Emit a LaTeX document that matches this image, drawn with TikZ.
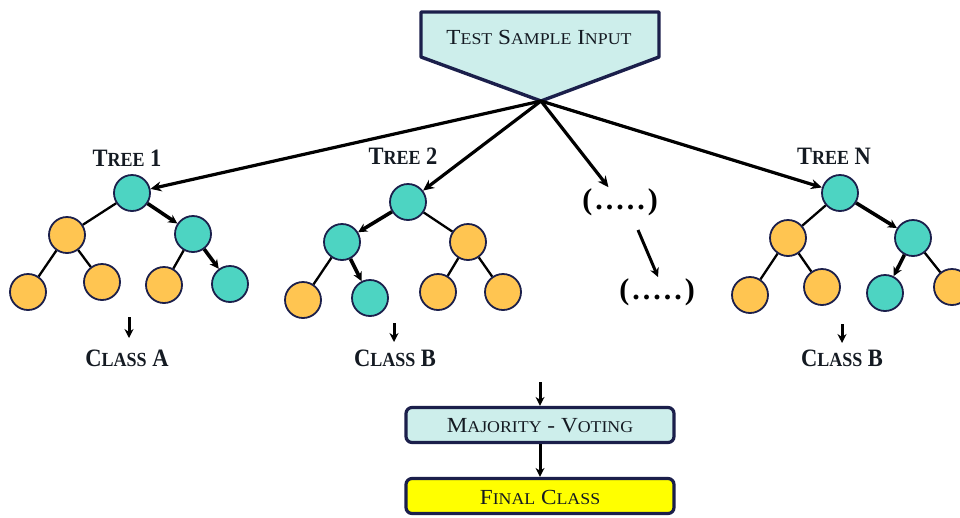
\documentclass[tikz,border=0pt]{standalone}
\usepackage{fontspec}
\usetikzlibrary{arrows.meta}
\newfontfamily\labfont[FakeStretch=0.9]{Liberation Serif}
\newfontfamily\boxfont[FakeStretch=1.08]{Liberation Serif}
\newfontfamily\dotfont[LetterSpace=10]{Liberation Serif}
\definecolor{navy}{HTML}{1B1F4B}
\definecolor{txt}{HTML}{141A22}
\definecolor{teal1}{HTML}{4DD4C2}
\definecolor{orng}{HTML}{FFC551}
\definecolor{boxfill}{HTML}{CDEEEB}
\definecolor{yel}{HTML}{FFFF00}
\newcommand\sm[1]{{\fontsize{\smsz}{\smsz}\selectfont #1}}
\tikzset{
  x=1pt,y=-1pt,
  tnode/.style={circle,draw=navy,line width=1.8pt,minimum size=36pt,inner sep=0pt},
  tl/.style={tnode,fill=teal1},
  to/.style={tnode,fill=orng},
  edge/.style={line width=2.3pt,black},
  aedge/.style={line width=3.6pt,black,-{Stealth[length=9pt,width=9pt]}},
  marr/.style={line width=3.2pt,black,-{Stealth[length=11pt,width=10pt]}},
  sarr/.style={line width=3pt,black,-{Stealth[length=9pt,width=9pt]}},
  treelab/.style={text=txt,font=\labfont\bfseries\fontsize{25}{25}\selectfont\def\smsz{20}},
  classlab/.style={treelab},
  boxtext/.style={text=txt,font=\boxfont\fontsize{21.5}{22}\selectfont\def\smsz{16.5}},
  dotslab/.style={font=\dotfont\bfseries\fontsize{30}{30}\selectfont,inner sep=1pt},
  rbox/.style={draw=navy,line width=3.2pt,rounded corners=6pt,minimum width=268pt,minimum height=35pt,inner sep=0pt},
}
\begin{document}
\begin{tikzpicture}
\useasboundingbox (0,0) rectangle (960,517);
% top pentagon
\draw[navy,line width=3.4pt,fill=boxfill,line join=round] (421,12) -- (659,12) -- (659,57) -- (541,101) -- (421,57) -- cycle;
\coordinate (tip) at (541,101);
\node[boxtext] (input) at (539,37) {T\sm{EST} S\sm{AMPLE} I\sm{NPUT}};

% Tree 1
\node[treelab] (t1lab) at (127,158) {T\sm{REE} 1};
\node[tl] (a0) at (132,193) {};
\node[to] (a1) at (67,235) {};
\node[tl] (a2) at (193,234) {};
\node[to] (a3) at (28,292) {};
\node[to] (a4) at (102,282) {};
\node[to] (a5) at (164,285) {};
\node[tl] (a6) at (230,284) {};
\draw[edge] (a0) -- (a1);
\draw[aedge] (a0) -- (a2);
\draw[edge] (a1) -- (a3);
\draw[edge] (a1) -- (a4);
\draw[edge] (a2) -- (a5);
\draw[aedge] (a2) -- (a6);

% Tree 2
\node[treelab] (t2lab) at (403,156) {T\sm{REE} 2};
\node[tl] (b0) at (408,202) {};
\node[tl] (b1) at (342,242) {};
\node[to] (b2) at (468,242) {};
\node[to] (b3) at (303,300) {};
\node[tl] (b4) at (370,298) {};
\node[to] (b5) at (438,292) {};
\node[to] (b6) at (503,292) {};
\draw[aedge] (b0) -- (b1);
\draw[edge] (b0) -- (b2);
\draw[edge] (b1) -- (b3);
\draw[aedge] (b1) -- (b4);
\draw[edge] (b2) -- (b5);
\draw[edge] (b2) -- (b6);

% Tree N
\node[treelab] (tnlab) at (834,156) {T\sm{REE} N};
\node[tl] (c0) at (840,193) {};
\node[to] (c1) at (788,238) {};
\node[tl] (c2) at (913,238) {};
\node[to] (c3) at (750,295) {};
\node[to] (c4) at (822,287) {};
\node[tl] (c5) at (885,293) {};
\node[to] (c6) at (952,287) {};
\draw[edge] (c0) -- (c1);
\draw[aedge] (c0) -- (c2);
\draw[edge] (c1) -- (c3);
\draw[edge] (c1) -- (c4);
\draw[aedge] (c2) -- (c5);
\draw[edge] (c2) -- (c6);

% dots
\node[dotslab] (d1) at (620,202) {(.....)};
\node[dotslab] (d2) at (657,292) {(.....)};
\coordinate (d1s) at (638,230);
\coordinate (d2e) at (658,277);
\draw[sarr] (d1s) -- (d2e);

% main arrows
\draw[marr] (tip) -- (a0);
\draw[marr] (tip) -- (b0);
\draw[marr] (tip) -- (d1);
\draw[marr] (tip) -- (c0);

% class labels
\node[classlab] (clA) at (127,358) {C\sm{LASS} A};
\node[classlab] (clB) at (395,358) {C\sm{LASS} B};
\node[classlab] (clN) at (842,358) {C\sm{LASS} B};
\coordinate (ka) at (129,317);
\coordinate (kb) at (394,323);
\coordinate (kn) at (842,324);
\coordinate (kae) at (129,338);
\coordinate (kbe) at (394,342);
\coordinate (kne) at (842,343);
\draw[sarr] (ka) -- (kae);
\draw[sarr] (kb) -- (kbe);
\draw[sarr] (kn) -- (kne);

% voting
\node[rbox,fill=boxfill] (vote) at (540,425) {};
\node[boxtext] (votet) at (540,426) {M\sm{AJORITY} - V\sm{OTING}};
\node[rbox,fill=yel] (final) at (540,496) {};
\node[boxtext] (finalt) at (540,497) {F\sm{INAL} C\sm{LASS}};
\coordinate (vin) at (540,382);
\draw[sarr] (vin) -- (vote.north);
\draw[sarr] (vote.south) -- (final.north);
\end{tikzpicture}
\end{document}
